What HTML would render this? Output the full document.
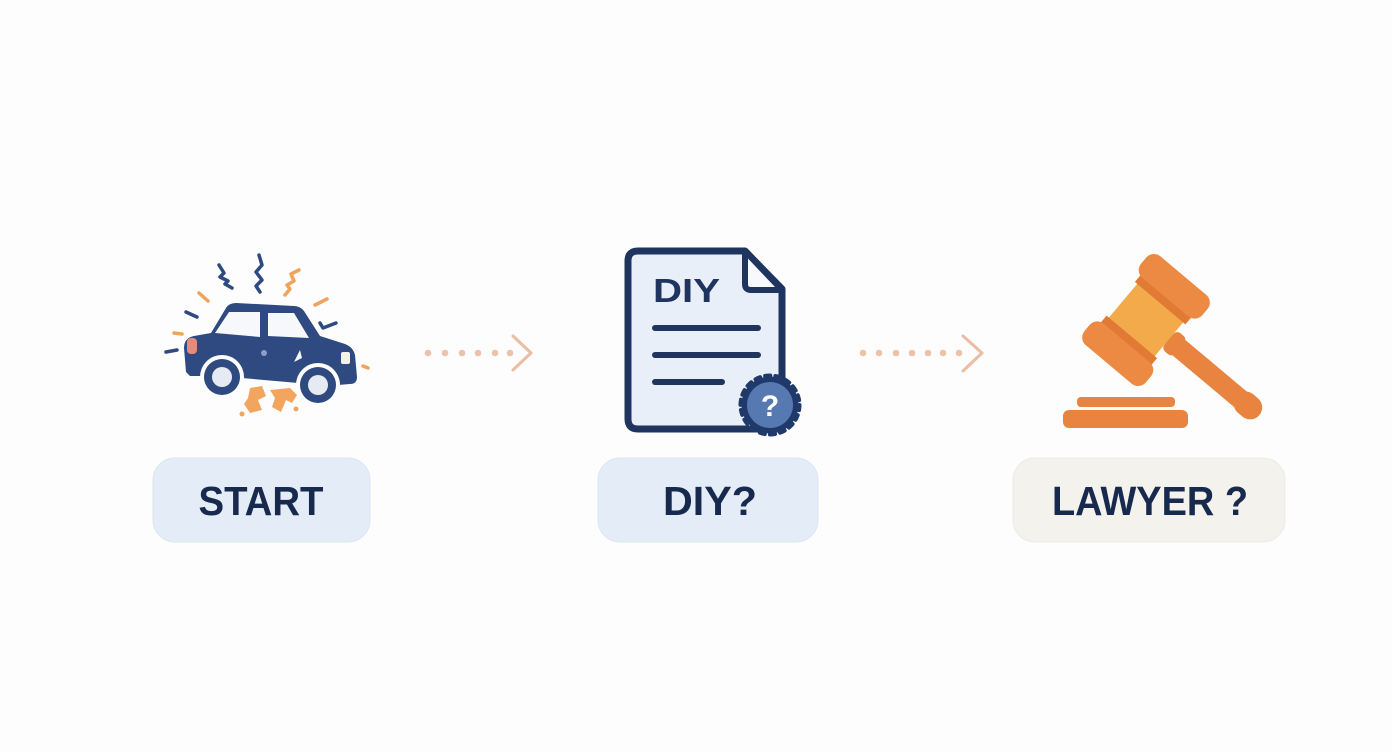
<!DOCTYPE html>
<html><head><meta charset="utf-8"><style>
html,body{margin:0;padding:0;background:#fdfdfd;}
svg{display:block;}
</style></head><body>
<svg width="1392" height="752" viewBox="0 0 1392 752" xmlns="http://www.w3.org/2000/svg">
<rect width="1392" height="752" fill="#fdfdfd"/>

<!-- CAR decorations -->
<g fill="none" stroke-linecap="round" stroke-linejoin="round" stroke-width="3.5">
  <polyline points="219,265 224,273 220,277 228,281 225,284 232,288" stroke="#2f4a80"/>
  <polyline points="259,255 262,265 256,272 262,280 256,286 260,292" stroke="#2f4a80"/>
  <polyline points="299,270 291,274 294,281 287,285 290,289 285,295" stroke="#f0a35c"/>
  <line x1="199" y1="293" x2="208" y2="301" stroke="#f0a35c"/>
  <line x1="315" y1="305" x2="327" y2="299" stroke="#f0a35c"/>
  <line x1="186" y1="312" x2="197" y2="317" stroke="#2f4a80"/>
  <polyline points="320,323 323,328 336,323" stroke="#2f4a80"/>
  <line x1="174" y1="333" x2="182" y2="334" stroke="#f0a35c"/>
  <line x1="166" y1="352" x2="177" y2="350" stroke="#2f4a80"/>
  <line x1="363" y1="366" x2="368" y2="368" stroke="#f0a35c"/>
</g>
<!-- car body -->
<path d="M186,372 L184,348 Q184,338 194,336 L211,333 L226,308 Q229,303 236,303 L294,306 Q300,306 304,311 L320,336 L345,344 Q353,347 355,355 L357,377 Q357,384 350,384 L338,385 A21,21 0 0 0 298,383 L242,378 A21,21 0 0 0 202,376 L190,376 Z" fill="#2f4a80"/>
<path d="M215,333 L229,312 L260,312 L260,337 Z" fill="#f7f8fb"/>
<path d="M268,313 L294,313 L309,338 L268,336 Z" fill="#f7f8fb"/>
<rect x="187" y="338" width="10" height="16" rx="4" fill="#e58a7c"/>
<rect x="341" y="352" width="9" height="12" rx="2" fill="#f4f1e6"/>
<circle cx="264" cy="353" r="3" fill="#8aa0c8"/>
<path d="M294,362 L300,350 L302,358 Z" fill="#f4f6fa"/>
<!-- wheels -->
<circle cx="222" cy="377" r="22" fill="#fdfdfd"/>
<circle cx="318" cy="385" r="22" fill="#fdfdfd"/>
<circle cx="222" cy="377" r="18" fill="#2f4a80"/>
<circle cx="318" cy="385" r="18" fill="#2f4a80"/>
<circle cx="222" cy="377" r="10" fill="#e6ebf3"/>
<circle cx="318" cy="385" r="10" fill="#e6ebf3"/>
<!-- debris -->
<g fill="#f2a55e">
  <polygon points="250,388 262,386 266,396 258,400 262,410 250,413 244,404 248,398"/>
  <polygon points="270,390 290,388 297,395 292,403 286,400 281,412 272,407 275,398"/>
  <circle cx="242" cy="414" r="2.5"/>
  <circle cx="296" cy="409" r="2.5"/>
</g>

<!-- arrow 1 -->
<g fill="#ecc3a8">
  <circle cx="428" cy="353" r="3.3"/><circle cx="445" cy="353" r="3.3"/><circle cx="462" cy="353" r="3.3"/>
  <circle cx="478" cy="353" r="3.3"/><circle cx="495" cy="353" r="3.3"/><circle cx="510" cy="353" r="3.3"/>
</g>
<polyline points="513,336 531,353 513,370" fill="none" stroke="#e9bea3" stroke-width="3" stroke-linecap="round" stroke-linejoin="round"/>

<!-- arrow 2 -->
<g fill="#ecc3a8">
  <circle cx="863" cy="353" r="3.3"/><circle cx="879" cy="353" r="3.3"/><circle cx="896" cy="353" r="3.3"/>
  <circle cx="912" cy="353" r="3.3"/><circle cx="928" cy="353" r="3.3"/><circle cx="943" cy="353" r="3.3"/>
  <circle cx="959" cy="353" r="3.3"/>
</g>
<polyline points="963,336 982,353 963,371" fill="none" stroke="#e9bea3" stroke-width="3" stroke-linecap="round" stroke-linejoin="round"/>

<!-- DOCUMENT -->
<path d="M638,251 L745,251 L782,289 L782,419 Q782,429 772,429 L638,429 Q628,429 628,419 L628,261 Q628,251 638,251 Z" fill="#e9eff8" stroke="#1f3560" stroke-width="7" stroke-linejoin="round"/>
<path d="M745,251 L745,284 Q745,290 751,290 L782,290 Z" fill="#f7f9fc" stroke="#1f3560" stroke-width="6" stroke-linejoin="round"/>
<text x="653" y="302" font-family="Liberation Sans, sans-serif" font-weight="bold" font-size="33" fill="#1f3560" textLength="67" lengthAdjust="spacingAndGlyphs">DIY</text>
<g stroke="#1f3560" stroke-width="6" stroke-linecap="round">
  <line x1="655" y1="328" x2="758" y2="328"/>
  <line x1="655" y1="355" x2="758" y2="355"/>
  <line x1="655" y1="382" x2="722" y2="382"/>
</g>
<!-- badge -->
<circle cx="770" cy="405" r="28.5" fill="#1f3a6a"/>
<circle cx="770" cy="405" r="29.5" fill="none" stroke="#1f3a6a" stroke-width="4" stroke-dasharray="5.15 5.15" stroke-linecap="round"/>
<circle cx="770" cy="405" r="23" fill="#5579b0"/>
<text x="770" y="416" text-anchor="middle" font-family="Liberation Sans, sans-serif" font-weight="bold" font-size="30" fill="#ffffff">?</text>

<!-- GAVEL -->
<rect x="1077" y="397" width="98" height="10" rx="4" fill="#e8843f"/>
<rect x="1063" y="410" width="125" height="18" rx="6" fill="#e8843f"/>
<g transform="translate(1146,320) rotate(40)">
  <rect x="28" y="-10" width="118" height="20" rx="10" fill="#e8843f"/>
  <rect x="30" y="-12" width="14" height="24" rx="5" fill="#e8843f"/>
  <rect x="118" y="-12" width="30" height="24" rx="12" fill="#e8843f"/>
  <rect x="-30" y="-24" width="60" height="48" fill="#f2aa4a"/>
  <rect x="-33" y="-31" width="66" height="9" fill="#e07a35"/>
  <rect x="-33" y="22" width="66" height="9" fill="#e07a35"/>
  <rect x="-40" y="-58" width="80" height="28" rx="10" fill="#ec8a44"/>
  <rect x="-40" y="30" width="80" height="28" rx="10" fill="#ec8a44"/>
</g>

<!-- LABEL BOXES -->
<rect x="153" y="458" width="217" height="84" rx="22" fill="#e4ecf7" stroke="#dde5f0" stroke-width="1"/>
<text x="261" y="515" text-anchor="middle" font-family="Liberation Sans, sans-serif" font-weight="bold" font-size="41" fill="#172a4e" textLength="125" lengthAdjust="spacingAndGlyphs">START</text>

<rect x="598" y="458" width="220" height="84" rx="22" fill="#e4ecf7" stroke="#dde5f0" stroke-width="1"/>
<text x="710" y="515" text-anchor="middle" font-family="Liberation Sans, sans-serif" font-weight="bold" font-size="41" fill="#172a4e" textLength="94" lengthAdjust="spacingAndGlyphs">DIY?</text>

<rect x="1013" y="458" width="272" height="84" rx="22" fill="#f3f2ec" stroke="#ebeae3" stroke-width="1"/>
<text x="1150" y="515" text-anchor="middle" font-family="Liberation Sans, sans-serif" font-weight="bold" font-size="41" fill="#172a4e" textLength="196" lengthAdjust="spacingAndGlyphs">LAWYER ?</text>
</svg>
</body></html>
